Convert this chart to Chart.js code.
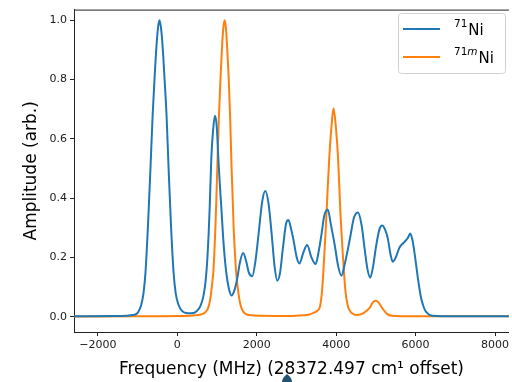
<!DOCTYPE html>
<html>
<head>
<meta charset="utf-8">
<script src="https://cdn.jsdelivr.net/npm/chart.js@4.4.1/dist/chart.umd.min.js"></script>
<style>
  html, body { margin: 0; padding: 0; background: #fff; }
  #wrap { width: 512px; height: 382px; }
</style>
</head>
<body>
<div id="wrap"><canvas id="spectrum" width="512" height="382"></canvas></div>
<script>
// 71Ni ground state spectrum (MHz offset, amplitude)
const ni71Freq = [-2600, -1600, -1300, -1118, -1000, -950, -908, -850, -800, -740, -675, -620, -568, -518, -480, -450, -415, -375, -325, -270, -218, -155, -93, -40, 33, 120, 218, 350, 450, 530, 592, 650, 700, 733, 760, 790, 817, 858, 900, 950, 995, 1033, 1070, 1108, 1170, 1233, 1300, 1367, 1440, 1508, 1580, 1658, 1740, 1800, 1890, 1970, 2050, 2140, 2217, 2300, 2383, 2450, 2517, 2590, 2658, 2740, 2800, 2860, 2925, 3008, 3075, 3170, 3270, 3380, 3483, 3560, 3633, 3700, 3790, 3870, 3967, 4050, 4133, 4220, 4342, 4450, 4550, 4640, 4717, 4790, 4858, 4930, 5008, 5090, 5158, 5230, 5300, 5370, 5425, 5500, 5592, 5700, 5800, 5867, 5920, 5967, 6067, 6133, 6200, 6258, 6425, 7000, 8350];
const ni71Amp = [0.002, 0.003, 0.004, 0.006, 0.013, 0.025, 0.04, 0.08, 0.15, 0.3, 0.5, 0.68, 0.814, 0.924, 0.98, 1.0, 0.98, 0.924, 0.814, 0.68, 0.5, 0.3, 0.15, 0.08, 0.04, 0.02, 0.013, 0.012, 0.015, 0.025, 0.04, 0.065, 0.105, 0.15, 0.2, 0.28, 0.371, 0.537, 0.626, 0.678, 0.64, 0.537, 0.45, 0.371, 0.24, 0.15, 0.095, 0.072, 0.09, 0.128, 0.185, 0.215, 0.185, 0.15, 0.137, 0.19, 0.283, 0.39, 0.424, 0.38, 0.27, 0.17, 0.122, 0.15, 0.23, 0.315, 0.327, 0.3, 0.26, 0.2, 0.18, 0.215, 0.242, 0.2, 0.178, 0.22, 0.28, 0.34, 0.362, 0.31, 0.24, 0.172, 0.139, 0.18, 0.26, 0.335, 0.352, 0.31, 0.23, 0.16, 0.132, 0.17, 0.24, 0.295, 0.308, 0.295, 0.265, 0.21, 0.186, 0.2, 0.233, 0.25, 0.265, 0.281, 0.26, 0.222, 0.123, 0.067, 0.035, 0.018, 0.004, 0.002, 0.002];

// 71mNi isomer spectrum
const ni71mFreq = [-2600, -1000, 0, 400, 592, 700, 770, 800, 830, 860, 885, 908, 935, 960, 985, 1008, 1050, 1092, 1133, 1165, 1192, 1220, 1250, 1292, 1330, 1367, 1395, 1420, 1450, 1483, 1530, 1592, 1650, 1700, 1800, 2500, 3000, 3300, 3450, 3520, 3592, 3640, 3675, 3720, 3758, 3825, 3883, 3933, 3992, 4050, 4108, 4150, 4200, 4240, 4300, 4350, 4400, 4508, 4650, 4760, 4842, 4920, 4992, 5070, 5175, 5280, 5400, 6000, 8350];
const ni71mAmp = [0.001, 0.002, 0.003, 0.005, 0.008, 0.015, 0.028, 0.04, 0.06, 0.09, 0.12, 0.15, 0.22, 0.3, 0.4, 0.504, 0.68, 0.814, 0.924, 0.98, 1.0, 0.98, 0.924, 0.814, 0.68, 0.504, 0.4, 0.3, 0.22, 0.15, 0.09, 0.04, 0.02, 0.012, 0.006, 0.003, 0.004, 0.007, 0.015, 0.02, 0.034, 0.08, 0.145, 0.25, 0.35, 0.532, 0.642, 0.703, 0.642, 0.532, 0.35, 0.25, 0.145, 0.08, 0.034, 0.02, 0.012, 0.006, 0.01, 0.02, 0.03, 0.048, 0.054, 0.048, 0.027, 0.01, 0.004, 0.002, 0.002];

const xTicks = [-2000, 0, 2000, 4000, 6000, 8000];
const yTicks = [0.0, 0.2, 0.4, 0.6, 0.8, 1.0];
const seriesMass = ['71', '71'];
const seriesState = ['', 'm'];
const seriesColors = ['#1f77b4', '#ff7f0e'];

const FONT = "'DejaVu Sans', sans-serif";
const zip = (xs, ys) => xs.map((x, i) => ({ x: x, y: ys[i] }));

// top spine, legend with superscript labels, little pointer glyph
const extras = {
    id: 'extras',
    afterDraw(chart) {
        const ctx = chart.ctx;
        const area = chart.chartArea;
        ctx.save();
        ctx.strokeStyle = '#222';
        ctx.lineWidth = 1;
        ctx.beginPath();
        ctx.moveTo(area.left, area.top + 0.5);
        ctx.lineTo(area.right, area.top + 0.5);
        ctx.stroke();

        // legend frame
        ctx.beginPath();
        ctx.roundRect(398.5, 13.5, 107, 60, 3);
        ctx.fillStyle = 'rgba(255,255,255,0.8)';
        ctx.fill();
        ctx.strokeStyle = '#d0d0d0';
        ctx.stroke();

        chart.data.datasets.forEach((ds, i) => {
            const y = 29 + i * 28;
            ctx.strokeStyle = ds.borderColor;
            ctx.lineWidth = 2;
            ctx.beginPath();
            ctx.moveTo(403, y);
            ctx.lineTo(440, y);
            ctx.stroke();

            ctx.fillStyle = '#000';
            ctx.textBaseline = 'alphabetic';
            ctx.textAlign = 'left';
            let x = 454;
            ctx.font = '10.5px ' + FONT;
            ctx.fillText(seriesMass[i], x, y - 2);
            x += ctx.measureText(seriesMass[i]).width;
            if (seriesState[i]) {
                ctx.font = 'italic 10.5px ' + FONT;
                ctx.fillText(seriesState[i], x, y - 2);
                x += ctx.measureText(seriesState[i]).width;
            }
            ctx.font = '15px ' + FONT;
            ctx.fillText('Ni', x + 1, y + 6);
        });

        // pointer glyph under the x title
        ctx.fillStyle = '#1f5474';
        ctx.beginPath();
        ctx.moveTo(287, 374);
        ctx.quadraticCurveTo(292, 378, 292, 382);
        ctx.lineTo(282, 382);
        ctx.quadraticCurveTo(282, 378, 287, 374);
        ctx.fill();
        ctx.restore();
    }
};

new Chart(document.getElementById('spectrum'), {
    type: 'line',
    data: {
        datasets: [
            {
                label: '71Ni',
                data: zip(ni71Freq, ni71Amp),
                borderColor: seriesColors[0],
                borderWidth: 2,
                pointRadius: 0,
                cubicInterpolationMode: 'monotone',
                fill: false
            },
            {
                label: '71mNi',
                data: zip(ni71mFreq, ni71mAmp),
                borderColor: seriesColors[1],
                borderWidth: 2,
                pointRadius: 0,
                cubicInterpolationMode: 'monotone',
                fill: false
            }
        ]
    },
    options: {
        responsive: false,
        animation: false,
        devicePixelRatio: 1,
        layout: { padding: { top: 4, right: 0, left: 0, bottom: 0 } },
        plugins: { legend: { display: false }, tooltip: { enabled: false } },
        scales: {
            x: {
                type: 'linear',
                min: -2600,
                max: 8350,
                afterFit: (axis) => { axis.height = 50; },
                afterBuildTicks: (axis) => { axis.ticks = xTicks.map(v => ({ value: v })); },
                grid: { display: true, drawOnChartArea: false, drawTicks: true, tickLength: 4, color: '#222' },
                border: { display: true, color: '#222', width: 1 },
                ticks: {
                    color: '#1a1a1a',
                    padding: 3,
                    maxRotation: 0,
                    font: { family: FONT, size: 11 },
                    callback: (v) => (v < 0 ? '\u2212' + Math.abs(v) : String(v))
                },
                title: {
                    display: true,
                    text: 'Frequency (MHz) (28372.497 cm\u00b9 offset)',
                    color: '#000',
                    font: { family: FONT, size: 17 },
                    padding: { top: 0, bottom: 2 }
                }
            },
            y: {
                type: 'linear',
                min: -0.051,
                max: 1.036,
                afterFit: (axis) => { axis.width = 74; },
                afterBuildTicks: (axis) => { axis.ticks = yTicks.map(v => ({ value: v })); },
                grid: { display: true, drawOnChartArea: false, drawTicks: true, tickLength: 4, color: '#222' },
                border: { display: true, color: '#222', width: 1 },
                ticks: {
                    color: '#1a1a1a',
                    padding: 3,
                    font: { family: FONT, size: 11 },
                    callback: (v) => v.toFixed(1)
                },
                title: {
                    display: true,
                    text: 'Amplitude (arb.)',
                    color: '#000',
                    font: { family: FONT, size: 17 },
                    padding: { top: 21, bottom: 0 }
                }
            }
        }
    },
    plugins: [extras]
});
</script>
</body>
</html>
